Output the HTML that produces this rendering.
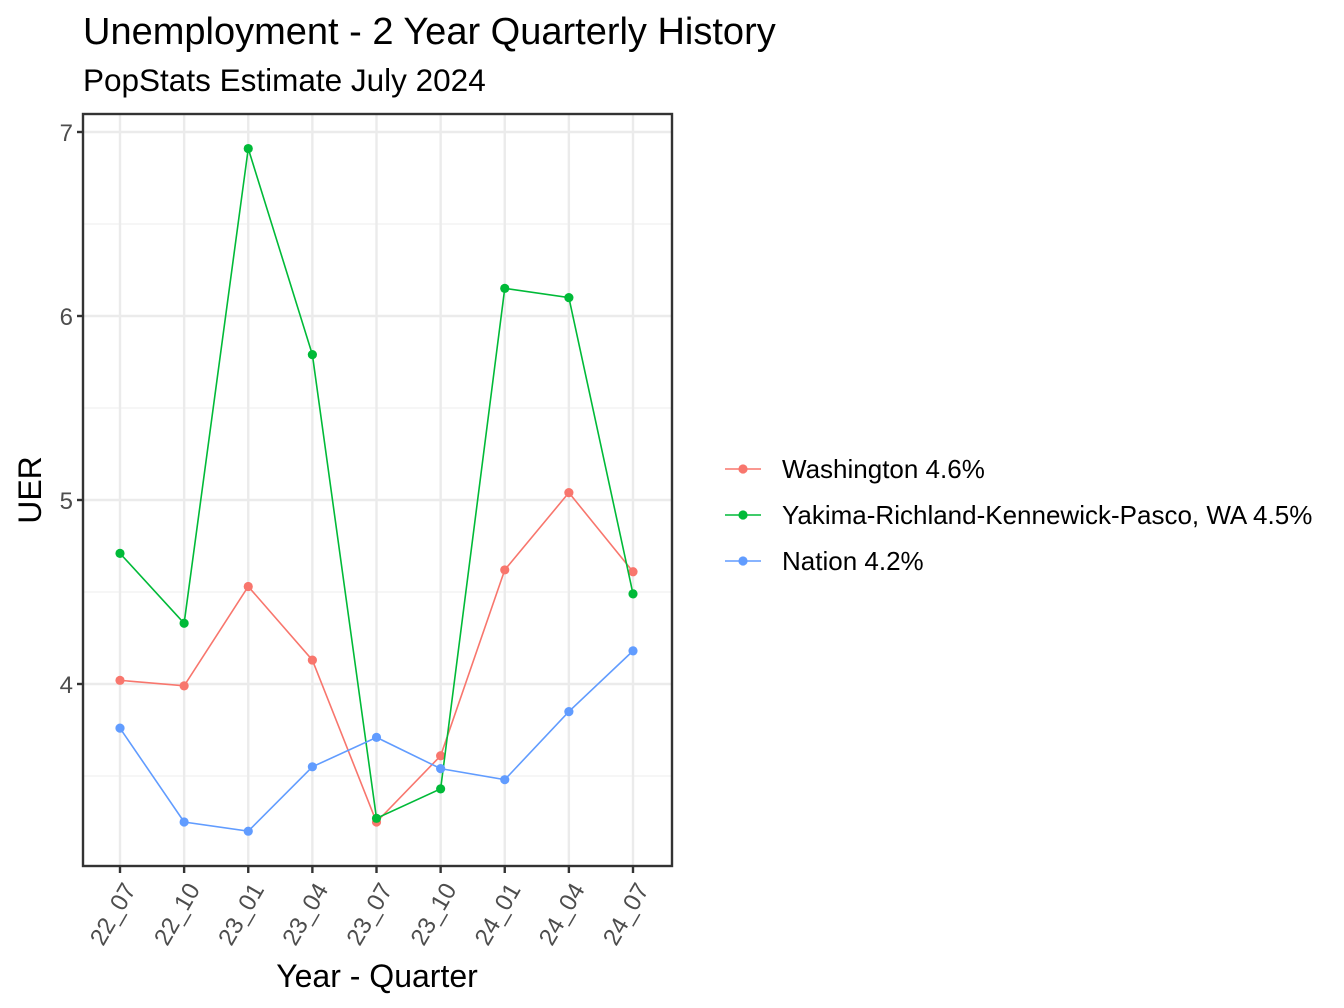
<!DOCTYPE html>
<html><head><meta charset="utf-8"><style>
html,body{margin:0;padding:0;background:#fff;}
svg{display:block;font-family:"Liberation Sans",Arial,sans-serif;}
</style></head><body>
<svg id="c" width="1344" height="1008" viewBox="0 0 1344 1008">
<text x="83" y="44" font-size="38" fill="#000">Unemployment - 2 Year Quarterly History</text>
<text x="83" y="91" font-size="31.5" fill="#000">PopStats Estimate July 2024</text>
<g id="plot"></g>
<text x="377" y="987" font-size="32" text-anchor="middle" fill="#000">Year - Quarter</text>
<text transform="translate(41,490) rotate(-90)" font-size="32" text-anchor="middle" fill="#000">UER</text>
<g id="legend"></g>
</svg>
<script>
const categories=["22_07","22_10","23_01","23_04","23_07","23_10","24_01","24_04","24_07"];
const washington=[4.02,3.99,4.53,4.13,3.25,3.61,4.62,5.04,4.61];
const yakima=[4.71,4.33,6.91,5.79,3.27,3.43,6.15,6.10,4.49];
const nation=[3.76,3.25,3.20,3.55,3.71,3.54,3.48,3.85,4.18];
const yTicks=[4,5,6,7];
const yMinor=[3.5,4.5,5.5,6.5];
const seriesNames=["Washington 4.6%","Yakima-Richland-Kennewick-Pasco, WA 4.5%","Nation 4.2%"];

const NS="http://www.w3.org/2000/svg";
const L=83,R=672,T=114,B=866;
const xs=i=>120+i*(633-120)/(categories.length-1);
const ys=v=>684-(v-4)*184;
const plot=document.getElementById('plot');
function mk(tag,a,p){const e=document.createElementNS(NS,tag);for(const k in a)e.setAttribute(k,a[k]);(p||plot).appendChild(e);return e;}
let bg=mk('rect',{x:L,y:T,width:R-L,height:B-T,fill:'#fff'});


yMinor.forEach(v=>{let g=mk('line',{x1:L,x2:R,y1:ys(v),y2:ys(v),stroke:'#f1f1f1','stroke-width':1.2});

});
yTicks.forEach(v=>{let g=mk('line',{x1:L,x2:R,y1:ys(v),y2:ys(v),stroke:'#ebebeb','stroke-width':2.4});


let t=mk('line',{x1:L-6,x2:L,y1:ys(v),y2:ys(v),stroke:'#333','stroke-width':2.4});


let tx=mk('text',{x:L-10,y:ys(v)+9,'font-size':24,'text-anchor':'end',fill:'#4d4d4d'});tx.textContent=v;

});
categories.forEach((c,i)=>{let g=mk('line',{x1:xs(i),x2:xs(i),y1:T,y2:B,stroke:'#ebebeb','stroke-width':2.4});


let t=mk('line',{x1:xs(i),x2:xs(i),y1:B,y2:B+7,stroke:'#333','stroke-width':2.4});


let tx=mk('text',{transform:`translate(${xs(i)+11},${B+20}) rotate(-60)`,'font-size':24,'text-anchor':'end','dominant-baseline':'middle',fill:'#4d4d4d'});tx.textContent=c;

});
const series=[[washington,'#F8766D','washington'],[yakima,'#00BA38','yakima'],[nation,'#619CFF','nation']];
series.forEach(([d,col,n])=>{let pl=mk('polyline',{points:d.map((v,i)=>xs(i)+','+ys(v)).join(' '),fill:'none',stroke:col,'stroke-width':1.6});


d.forEach((v,i)=>{let p=mk('circle',{cx:xs(i),cy:ys(v),r:4.6,fill:col});

});});
let fr=mk('rect',{x:L,y:T,width:R-L,height:B-T,fill:'none',stroke:'#333','stroke-width':2.4});


const lg=document.getElementById('legend');
series.forEach(([d,col,n],k)=>{const y=469+k*46;
let ln=mk('line',{x1:725,x2:761,y1:y,y2:y,stroke:col,'stroke-width':1.6},lg);


let c=mk('circle',{cx:743,cy:y,r:4.6,fill:col},lg);


let t=mk('text',{x:782,y:y+9,'font-size':26,fill:'#000'},lg);t.textContent=seriesNames[k];

});
</script>
</body></html>
